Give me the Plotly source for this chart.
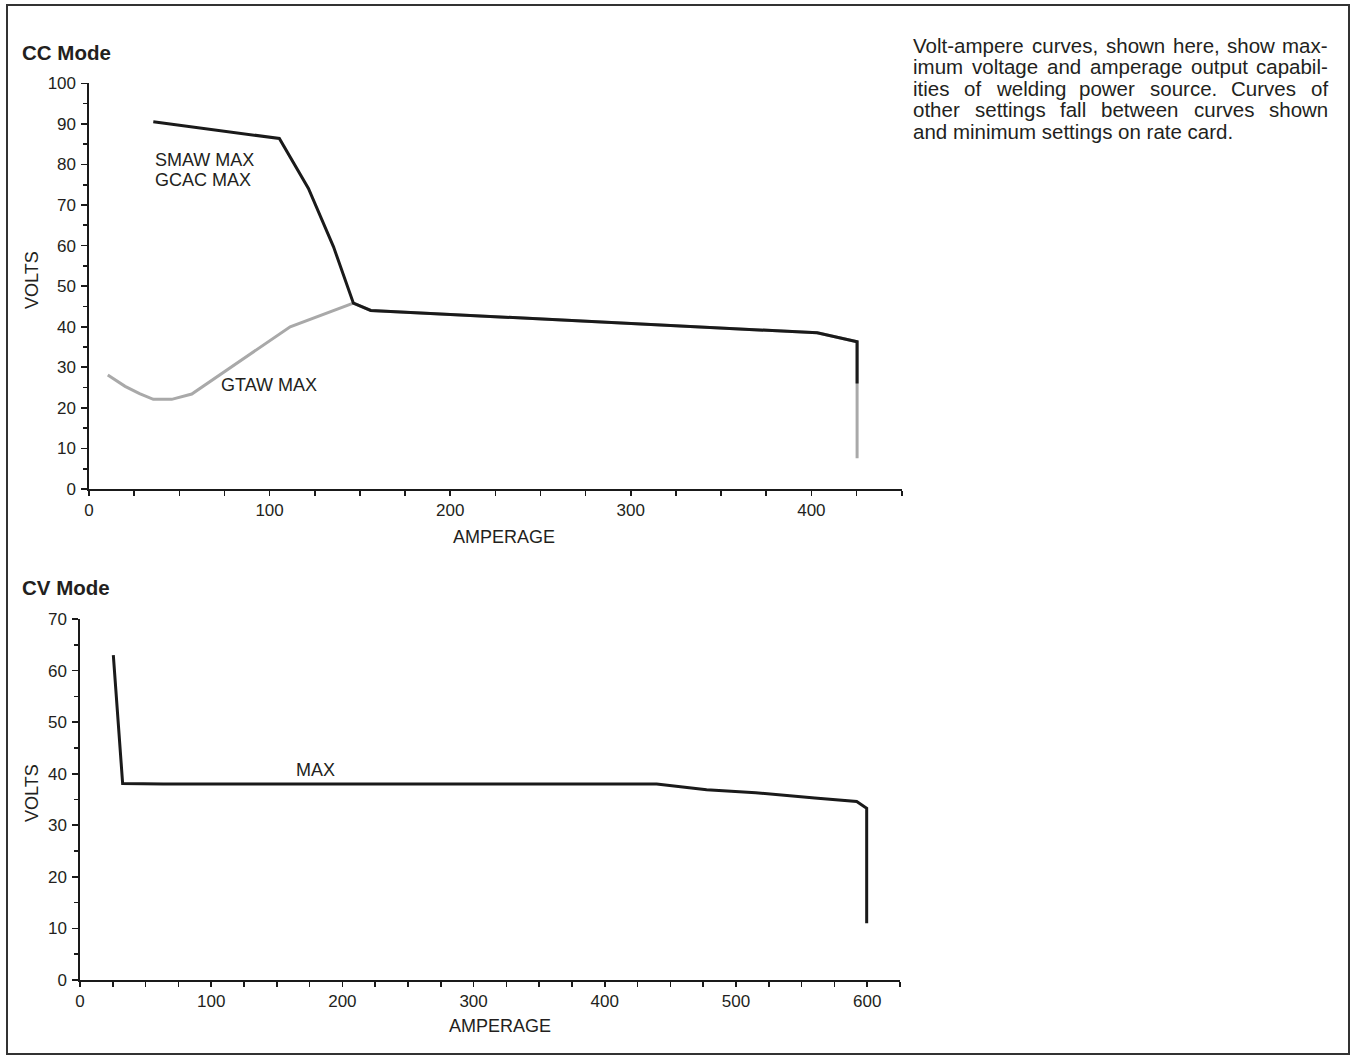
import plotly.graph_objects as go

# ---------------- data ----------------
# CC mode curves (amperes, volts)
smaw_amps = [35.6, 105.4, 121.5, 135.4, 146.4, 156.0, 403.2, 425.3, 425.3]
smaw_volts = [90.5, 86.4, 74.1, 59.7, 45.8, 44.0, 38.5, 36.3, 26.0]

gtaw_amps = [10.4, 20.0, 28.0, 35.6, 45.8, 56.9, 111.4, 146.4, 156.0, 403.2, 425.3, 425.3]
gtaw_volts = [28.1, 25.3, 23.5, 22.1, 22.1, 23.4, 40.0, 45.8, 44.0, 38.5, 36.3, 7.6]

# CV mode curve
cv_amps = [25.4, 32.5, 63.5, 439.5, 477.6, 515.0, 560.0, 592.0, 599.6, 599.6]
cv_volts = [63.0, 38.1, 38.0, 38.0, 36.9, 36.3, 35.3, 34.6, 33.3, 11.0]

# ticks
cc_x_ticks = [0, 100, 200, 300, 400]
cc_y_ticks = [0, 10, 20, 30, 40, 50, 60, 70, 80, 90, 100]
cv_x_ticks = [0, 100, 200, 300, 400, 500, 600]
cv_y_ticks = [0, 10, 20, 30, 40, 50, 60, 70]

paragraph_lines = [
    "Volt-ampere curves, shown here, show max-",
    "imum voltage and amperage output capabil-",
    "ities of welding power source. Curves of",
    "other settings fall between curves shown",
    "and minimum settings on rate card.",
]

# ---------------- layout helpers ----------------
W, H = 1356, 1057
TXT = "#231f20"
LINE = "#1a1a1a"
GRAY = "#a9a9a9"
FONT = "Arial, Liberation Sans, sans-serif"


def fx(p):
    return p / W


def fy(p):
    return 1 - p / H


# Arial / Liberation Sans advance widths (per 1000 em)
AW = {' ': 278, ',': 278, '.': 278, '-': 333}
AW.update(dict(zip("abcdefghijklmnopqrstuvwxyz",
                   [556, 556, 500, 556, 556, 278, 556, 556, 222, 222, 500, 222, 833,
                    556, 556, 556, 556, 333, 500, 278, 556, 500, 722, 500, 500, 500])))
AW.update(dict(zip("ABCDEFGHIJKLMNOPQRSTUVWXYZ",
                   [667, 667, 722, 722, 667, 611, 778, 722, 278, 500, 667, 556, 833,
                    722, 778, 667, 778, 722, 667, 611, 722, 667, 944, 667, 667, 611])))


def text_w(s, fs):
    return sum(AW.get(c, 556) for c in s) * fs / 1000.0


fig = go.Figure()

fig.add_trace(go.Scatter(x=gtaw_amps, y=gtaw_volts, mode="lines",
                         line=dict(color=GRAY, width=3), xaxis="x", yaxis="y",
                         hoverinfo="skip"))
fig.add_trace(go.Scatter(x=smaw_amps, y=smaw_volts, mode="lines",
                         line=dict(color=LINE, width=3), xaxis="x", yaxis="y",
                         hoverinfo="skip"))
fig.add_trace(go.Scatter(x=cv_amps, y=cv_volts, mode="lines",
                         line=dict(color=LINE, width=3), xaxis="x2", yaxis="y2",
                         hoverinfo="skip"))


def axis(domain, rng, ticks, minor, ticklen, minorlen, anchor, standoff):
    return dict(domain=domain, range=rng, anchor=anchor, automargin=False,
                tickmode="array", tickvals=ticks, ticktext=[str(t) for t in ticks],
                showline=True, linecolor=LINE, linewidth=1.6,
                ticks="outside", ticklen=ticklen, tickwidth=1.6, tickcolor=LINE,
                minor=dict(dtick=minor, tick0=0, ticks="outside", ticklen=minorlen,
                           tickwidth=1.6, tickcolor=LINE, showgrid=False),
                showgrid=False, zeroline=False, fixedrange=True,
                tickfont=dict(family=FONT, size=17, color=TXT),
                ticklabelstandoff=standoff)


fig.update_layout(
    width=W, height=H, autosize=False,
    margin=dict(l=0, r=0, t=0, b=0, pad=0, autoexpand=False),
    paper_bgcolor="white", plot_bgcolor="white", showlegend=False,
    font=dict(family=FONT, color=TXT),
    xaxis=axis([fx(89), fx(901.7)], [0, 450], cc_x_ticks, 25, 5, 5, "y", 0),
    yaxis=axis([fy(489), fy(83.3)], [0, 100], cc_y_ticks, 5, 6, 4, "x", 2),
    xaxis2=axis([fx(80), fx(900)], [0, 625], cv_x_ticks, 25, 5, 5, "y2", 0),
    yaxis2=axis([fy(980), fy(619)], [0, 70], cv_y_ticks, 5, 6, 4, "x2", 2),
)

ann = []


def add_text(text, x, y, size, xanchor="left", bold=False, angle=0, xref="paper", yref="paper"):
    ann.append(dict(text=f"<b>{text}</b>" if bold else text, x=x, y=y, xref=xref, yref=yref,
                    xanchor=xanchor, yanchor="middle", showarrow=False, textangle=angle,
                    borderpad=0, borderwidth=0,
                    font=dict(family=FONT, size=size, color=TXT)))


# titles
add_text("CC Mode", fx(22), fy(52.5), 20.5, bold=True)
add_text("CV Mode", fx(22), fy(587.5), 20.5, bold=True)

# axis titles
add_text("VOLTS", fx(32), fy(280), 18, xanchor="center", angle=-90)
add_text("AMPERAGE", fx(504), fy(537), 18, xanchor="center")
add_text("VOLTS", fx(32), fy(793), 18, xanchor="center", angle=-90)
add_text("AMPERAGE", fx(500), fy(1026), 18, xanchor="center")

# curve labels (data coordinates)
add_text("SMAW MAX", 36.6, 81.1, 18, xref="x", yref="y")
add_text("GCAC MAX", 36.6, 76.2, 18, xref="x", yref="y")
add_text("GTAW MAX", 73.1, 25.6, 18, xref="x", yref="y")
add_text("MAX", 179.5, 40.7, 18, xanchor="center", xref="x2", yref="y2")

# justified paragraph
PFS = 20.5
L, R = 913, 1328
for i, line in enumerate(paragraph_lines):
    base = 51.5 + 21.5 * i
    cy = base - 0.3 * PFS
    if i == len(paragraph_lines) - 1:
        add_text(line, fx(L), fy(cy), PFS)
        continue
    words = line.split(" ")
    widths = [text_w(w, PFS) for w in words]
    gap = (R - L - sum(widths)) / (len(words) - 1)
    xpos = L
    for w, wd in zip(words, widths):
        add_text(w, fx(xpos), fy(cy), PFS)
        xpos += wd + gap

fig.update_layout(annotations=ann)

# outer frame
fig.add_shape(type="rect", xref="paper", yref="paper",
              x0=fx(7), x1=fx(1349), y0=fy(1054), y1=fy(5),
              line=dict(color="#333333", width=2), fillcolor="rgba(0,0,0,0)")

fig.write_html("out.html",
               config={"displayModeBar": False, "staticPlot": True, "responsive": False},
               post_script="document.body.style.margin='0';document.body.style.overflow='hidden';")
